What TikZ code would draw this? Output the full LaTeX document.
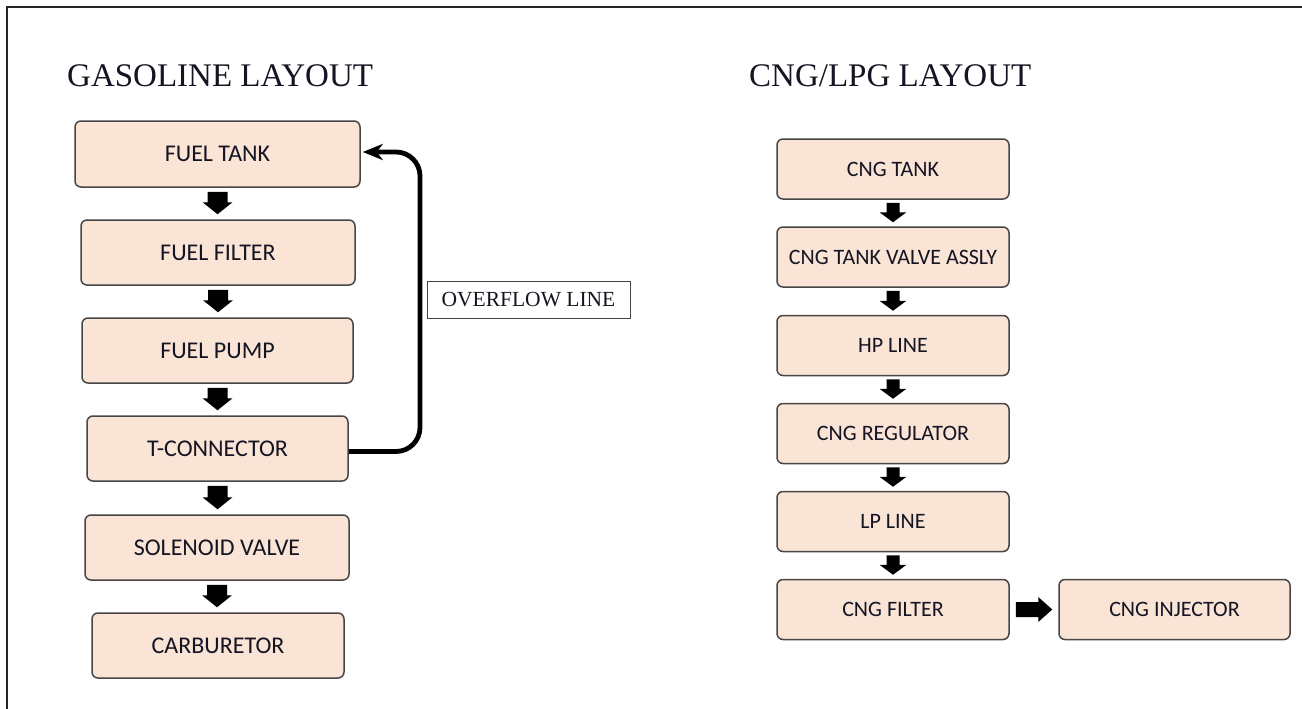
\documentclass[tikz,border=0pt]{standalone}
\usepackage{fontspec}
\newfontfamily\boxfont{Carlito}
\newfontfamily\titlefont{Liberation Serif}
\usetikzlibrary{calc,arrows.meta}
\definecolor{boxfill}{RGB}{250,228,214}
\definecolor{boxline}{RGB}{70,70,70}
\definecolor{txt}{RGB}{20,20,35}
% #1 from, #2 to, #3 shaft half-width, #4 head half-width, #5 head length, #6 top gap, #7 tip gap
\newcommand{\blkdown}[7]{%
  \fill[black] let \p1=($(#1.south)+(0,#6)$), \p2=($(#2.north)+(0,-#7)$) in
  (\x1-#3pt,\y1) -- (\x1+#3pt,\y1) -- (\x1+#3pt,\y2+#5pt) -- (\x1+#4pt,\y2+#5pt)
  -- (\x1,\y2) -- (\x1-#4pt,\y2+#5pt) -- (\x1-#3pt,\y2+#5pt) -- cycle;}
\newcommand{\blkright}[7]{%
  \fill[black] let \p1=($(#1.east)+(#6,0)$), \p2=($(#2.west)+(-#7,0)$) in
  (\x1,\y1+#3pt) -- (\x2-#5pt,\y1+#3pt) -- (\x2-#5pt,\y1+#4pt) -- (\x2,\y1)
  -- (\x2-#5pt,\y1-#4pt) -- (\x2-#5pt,\y1-#3pt) -- (\x1,\y1-#3pt) -- cycle;}
\begin{document}
\begin{tikzpicture}[x=1pt,y=-1pt,
  basebox/.style={draw=boxline, line width=1.5pt, fill=boxfill, rounded corners=6pt,
    inner sep=0pt, text=txt},
  lbox/.style={basebox, font=\boxfont\fontsize{24}{28}\selectfont, minimum height=65pt},
  rbox/.style={basebox, font=\boxfont\fontsize{22}{26}\selectfont, minimum height=60pt, minimum width=232pt},
  title/.style={anchor=base west, inner sep=0pt, text=txt, font=\titlefont\fontsize{33}{36}\selectfont}]
\useasboundingbox (0,0) rectangle (1302,709);
\fill[white] (0,0) rectangle (1302,709);
% frame
\draw[line width=2.2pt, black!85] (7,709) -- (7,7) -- (1302,7);
% titles
\node[title] (tg) at (67,86) {GASOLINE LAYOUT};
\node[title] (tc2) at (749,86) {CNG/LPG LAYOUT};
% left column
\node[lbox, minimum width=285pt, minimum height=66pt] (ft) at (217.5,154) {FUEL TANK};
\node[lbox, minimum width=274pt] (ff) at (218,252.5) {FUEL FILTER};
\node[lbox, minimum width=271pt] (fp) at (217.5,350.5) {FUEL PUMP};
\node[lbox, minimum width=261pt] (tc) at (217.5,448.5) {T-CONNECTOR};
\node[lbox, minimum width=264pt] (sv) at (217,547.5) {SOLENOID VALVE};
\node[lbox, minimum width=252pt] (cb) at (218,645.5) {CARBURETOR};
\blkdown{ft}{ff}{10}{15}{12}{4}{5}
\blkdown{ff}{fp}{10}{15}{12}{4}{5}
\blkdown{fp}{tc}{10}{15}{12}{4}{5}
\blkdown{tc}{sv}{10}{15}{12}{4}{5}
\blkdown{sv}{cb}{10}{15}{12}{4}{5}
% overflow line
\coordinate (ovx) at (420,300);
\draw[line width=4.8pt, rounded corners=24pt, -{Stealth[length=20pt,width=16pt,inset=6pt]}]
  ($(tc.east)+(0,3)$) -| (ovx) |- ($(ft.east)+(2,-2)$);
\node[draw=boxline, line width=1pt, minimum width=203pt, minimum height=37pt, inner sep=0pt,
  text=txt, font=\titlefont\fontsize{21.5}{24}\selectfont] (ol) at (528.5,299.5) {OVERFLOW LINE};
% right column
\node[rbox] (ct) at (893,169) {CNG TANK};
\node[rbox] (va) at (893,257) {CNG TANK VALVE ASSLY};
\node[rbox] (hp) at (893,345.5) {HP LINE};
\node[rbox] (rg) at (893,433.5) {CNG REGULATOR};
\node[rbox] (lp) at (893,521.5) {LP LINE};
\node[rbox] (cf) at (893,609.5) {CNG FILTER};
\node[rbox, minimum width=231pt] (ci) at (1174.5,609.5) {CNG INJECTOR};
\blkdown{ct}{va}{6.5}{13.5}{10}{3}{4}
\blkdown{va}{hp}{6.5}{13.5}{10}{3}{4}
\blkdown{hp}{rg}{6.5}{13.5}{10}{3}{4}
\blkdown{rg}{lp}{6.5}{13.5}{10}{3}{4}
\blkdown{lp}{cf}{6.5}{13.5}{10}{3}{4}
\blkright{cf}{ci}{7.5}{12.5}{14}{6}{6}
\end{tikzpicture}
\end{document}
